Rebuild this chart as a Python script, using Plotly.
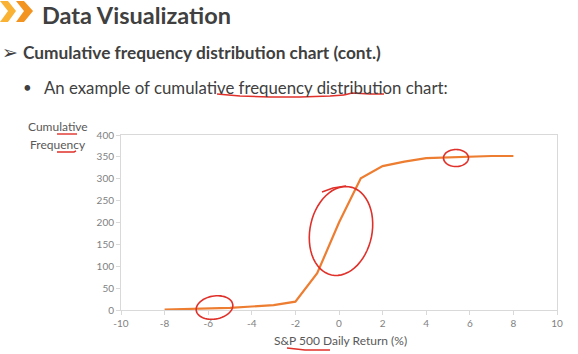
import math
import plotly.graph_objects as go

# ---- data ----
returns_pct = [-8, -7, -6, -5, -4, -3, -2, -1, 0, 1, 2, 3, 4, 5, 6, 7, 8]
cum_freq = [1, 2, 3, 5, 8, 11, 19, 84, 200, 301, 329, 339, 347, 349, 351, 352, 352]
x_tick_vals = [-10, -8, -6, -4, -2, 0, 2, 4, 6, 8, 10]
x_tick_text = ["-10", "-8", "-6", "-4", "-2", "0", "2", "4", "6", "8", "10"]
y_tick_vals = [0, 50, 100, 150, 200, 250, 300, 350, 400]

W, H = 578, 354
L, R, T, B = 121, 557, 135, 310
FONT = "Lato"

def px(x):
    return (x - L) / (R - L)

def py(y):
    return (B - y) / (B - T)

fig = go.Figure()
fig.add_trace(go.Scatter(x=returns_pct, y=cum_freq, mode="lines",
                         line=dict(color="#ED7D31", width=2.2),
                         hoverinfo="skip", showlegend=False))

axis_common = dict(showline=True, linecolor="#D9D9D9", linewidth=1, mirror=True,
                   showgrid=False, zeroline=False, ticks="outside", ticklen=4,
                   tickcolor="#D9D9D9", tickfont=dict(family=FONT, size=10, color="#7F7F7F"))
fig.update_xaxes(range=[-10, 10], tickvals=x_tick_vals, ticktext=x_tick_text, **axis_common)
fig.update_yaxes(range=[0, 400], tickvals=y_tick_vals, **axis_common)

ann = []
def text(x, y, s, size, color="#404040", bold=False, anchor="left"):
    if bold:
        s = "<b>" + s + "</b>"
    ann.append(dict(x=px(x), y=py(y), xref="paper", yref="paper", text=s,
                    showarrow=False, xanchor=anchor, yanchor="middle",
                    font=dict(family=FONT, size=size, color=color)))

text(40, 15, "Data Visualization", 23.5, "#404040", bold=True)
text(0, 51, "➢", 19, "#404040")
text(21, 52, "Cumulative frequency distribution chart (cont.)", 17.3, "#404040", bold=True)
text(21, 87, "•", 15, "#404040")
text(42, 87, "An example of cumulative frequency distribution chart:", 16.8, "#404040")
text(58, 127, "Cumulative", 12, "#595959", anchor="center")
text(58, 144, "Frequency", 12, "#595959", anchor="center")
text(340, 340, "S&P 500 Daily Return (%)", 12, "#595959", anchor="center")

shapes = []
def poly(pts, color, close=True):
    d = "M " + " L ".join(f"{px(a):.4f},{py(b):.4f}" for a, b in pts)
    if close:
        d += " Z"
    return d

# chevrons logo
chev1 = [(0, 1), (8, 1), (16, 11), (8, 22), (0, 22), (8, 11)]
chev2 = [(16, 1), (24, 1), (33, 11), (24, 22), (16, 22), (24, 11)]
shapes.append(dict(type="path", xref="paper", yref="paper", path=poly(chev1, ""),
                   fillcolor="#F9B233", line=dict(width=0)))
shapes.append(dict(type="path", xref="paper", yref="paper", path=poly(chev2, ""),
                   fillcolor="#F39420", line=dict(width=0)))

RED = "#E0302A"
def ellipse(cx, cy, rx, ry, rot_deg=0, start=0, extent=360, n=60):
    pts = []
    r = math.radians(rot_deg)
    for i in range(n + 1):
        t = math.radians(start + extent * i / n)
        ex, ey = rx * math.cos(t), ry * math.sin(t)
        pts.append((cx + ex * math.cos(r) - ey * math.sin(r),
                    cy + ex * math.sin(r) + ey * math.cos(r)))
    return pts

def stroke(pts, width=1.6):
    shapes.append(dict(type="path", xref="paper", yref="paper",
                       path=poly(pts, "", close=False),
                       line=dict(color=RED, width=width)))

stroke(ellipse(214.5, 307.5, 18.5, 11.5, -10, -70, 370))
stroke(ellipse(341, 231, 31, 45, 12, -80, 365))
stroke([(322, 192), (333, 188), (346, 186)])
stroke(ellipse(456, 158, 12.5, 8.5, 0, -100, 370))
# underlines
stroke([(217, 94), (240, 96), (270, 97), (300, 97), (330, 96), (344, 95)])
stroke([(344, 95), (352, 93), (370, 94), (384, 94)])
stroke([(57, 134), (77, 134)], 1.4)
stroke([(57, 152), (74, 152), (76, 151)], 1.4)
stroke([(287, 348), (305, 350), (330, 350)], 1.4)

fig.update_layout(width=W, height=H, margin=dict(l=L, r=W - R, t=T, b=H - B),
                  paper_bgcolor="white", plot_bgcolor="white",
                  annotations=ann, shapes=shapes)
fig.write_html("out.html")
